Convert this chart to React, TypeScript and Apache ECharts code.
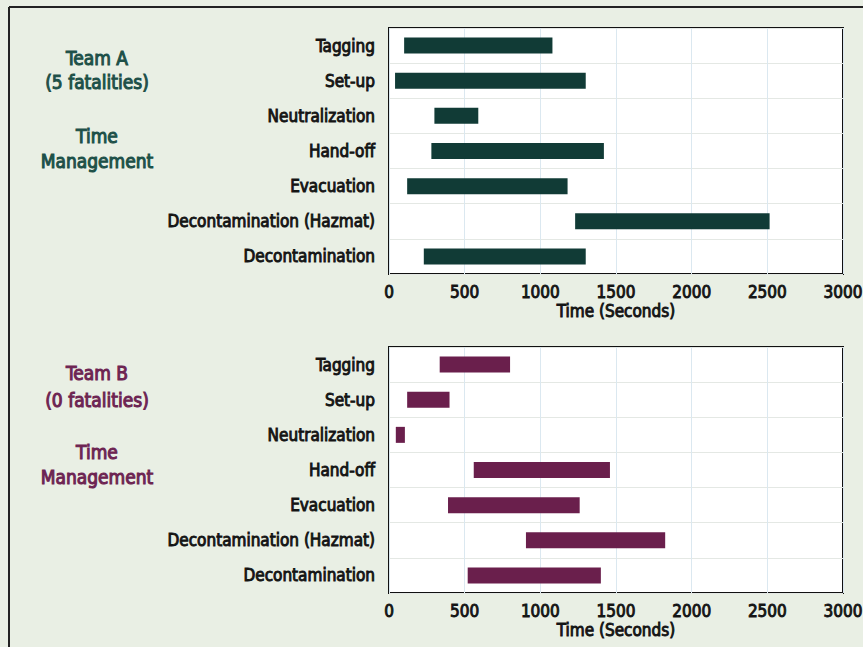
import React, { useEffect, useRef } from "react";
import * as echarts from "echarts";

const categories = [
  "Tagging",
  "Set-up",
  "Neutralization",
  "Hand-off",
  "Evacuation",
  "Decontamination (Hazmat)",
  "Decontamination",
];
const teamAStart = [100, 40, 300, 280, 120, 1230, 230];
const teamAEnd = [1080, 1300, 590, 1420, 1180, 2515, 1300];
const teamBStart = [335, 120, 45, 560, 390, 905, 520];
const teamBEnd = [800, 400, 105, 1460, 1260, 1825, 1400];
const xTicks = [0, 500, 1000, 1500, 2000, 2500, 3000];

const FONT = "'DejaVu Sans Condensed', 'Roboto', sans-serif";
const BG = "#e9efe4";
const COLOR_A = "#113b36";
const COLOR_B = "#6a1f4c";
const TITLE_A = "#1d5048";
const TITLE_B = "#6d2452";
const TEXT = "#141414";

export default function App() {
  const ref = useRef<HTMLDivElement>(null);
  useEffect(() => {
    if (!ref.current) return;
    const chart = echarts.init(ref.current, undefined, { renderer: "svg" });
    const tops = [28, 347];
    const grids = tops.map((t) => ({
      left: 389,
      top: t,
      width: 454,
      height: 246,
      outerBoundsMode: "none",
      containLabel: false,
      show: true,
      backgroundColor: "#ffffff",
      borderColor: "#111111",
      borderWidth: 2,
    }));
    const labelStyle = {
      fontFamily: FONT,
      fontSize: 17,
      color: TEXT,
      textBorderColor: TEXT,
      textBorderWidth: 0.9,
    };
    const xAxes = [0, 1].map((i) => ({
      type: "value",
      gridIndex: i,
      min: xTicks[0],
      max: xTicks[xTicks.length - 1],
      interval: 500,
      name: "Time (Seconds)",
      nameLocation: "middle",
      nameGap: 28,
      nameTextStyle: { ...labelStyle },
      axisLine: { show: false },
      axisTick: { show: false },
      axisLabel: { ...labelStyle, margin: 9, formatter: (v: number) => String(v) },
      splitLine: { show: true, lineStyle: { color: "#dbe8f0", width: 1 } },
    }));
    const yAxes = [0, 1].map((i) => ({
      type: "category",
      gridIndex: i,
      data: categories,
      inverse: true,
      axisLine: { show: false },
      axisTick: { show: false },
      axisLabel: { ...labelStyle, margin: 14 },
      splitLine: { show: true, lineStyle: { color: "#e4e8e4", width: 1 } },
    }));
    const mk = (i: number, starts: number[], ends: number[], color: string) => [
      {
        type: "bar",
        xAxisIndex: i,
        yAxisIndex: i,
        stack: "s" + i,
        data: starts,
        itemStyle: { color: "transparent" },
        barWidth: 16,
        silent: true,
      },
      {
        type: "bar",
        xAxisIndex: i,
        yAxisIndex: i,
        stack: "s" + i,
        data: ends.map((e, k) => e - starts[k]),
        itemStyle: { color },
        barWidth: 16,
      },
    ];
    const titleText = (x: number, y: number, text: string, color: string) => ({
      type: "text",
      x,
      y,
      style: {
        text,
        fill: color,
        stroke: color,
        lineWidth: 1,
        font: `19px ${FONT}`,
        textAlign: "center",
        textVerticalAlign: "middle",
      },
    });
    chart.setOption({
      animation: false,
      backgroundColor: BG,
      grid: grids,
      xAxis: xAxes,
      yAxis: yAxes,
      series: [...mk(0, teamAStart, teamAEnd, COLOR_A), ...mk(1, teamBStart, teamBEnd, COLOR_B)],
      graphic: [
        { type: "line", shape: { x1: 9, y1: 7, x2: 863, y2: 7 }, style: { stroke: "#222", lineWidth: 2 } },
        { type: "line", shape: { x1: 9, y1: 7, x2: 9, y2: 647 }, style: { stroke: "#222", lineWidth: 2 } },
        titleText(97, 58, "Team A", TITLE_A),
        titleText(97, 82, "(5 fatalities)", TITLE_A),
        titleText(97, 136, "Time", TITLE_A),
        titleText(97, 161, "Management", TITLE_A),
        titleText(97, 373, "Team B", TITLE_B),
        titleText(97, 400, "(0 fatalities)", TITLE_B),
        titleText(97, 452, "Time", TITLE_B),
        titleText(97, 477, "Management", TITLE_B),
      ],
    });
    return () => chart.dispose();
  }, []);
  return (
    <div
      ref={ref}
      style={{ position: "fixed", left: 0, top: 0, width: 863, height: 647 }}
    />
  );
}
